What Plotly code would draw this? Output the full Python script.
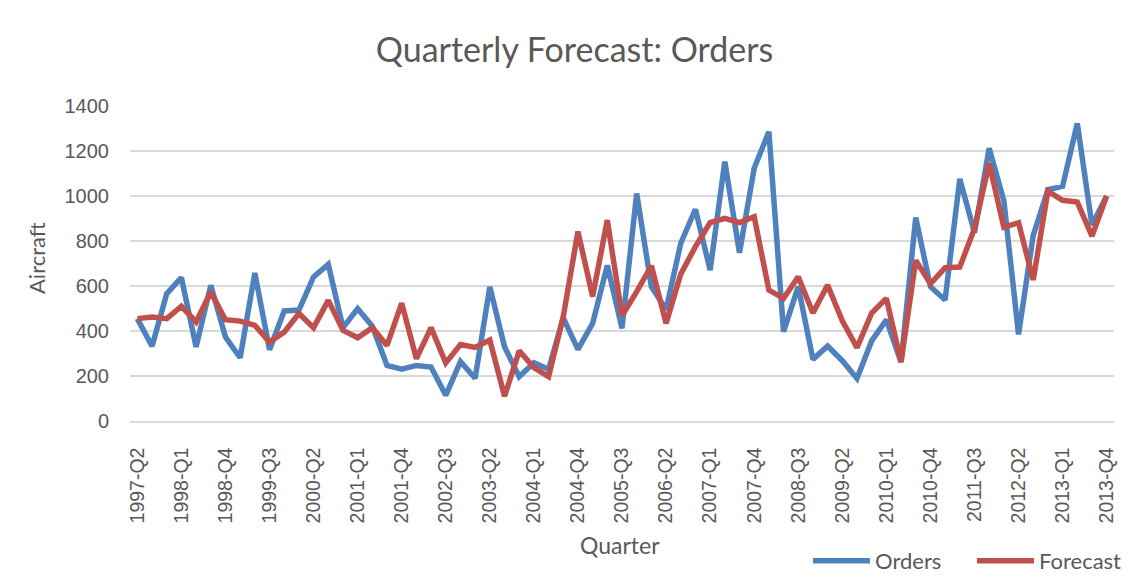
import plotly.graph_objects as go

quarters = [f"{y}-Q{q}" for y in range(1997, 2014) for q in range(1, 5)][1:]

orders = [455, 332, 566, 637, 329, 603, 373, 281, 658, 317,
          489, 493, 640, 696, 415, 499, 421, 247, 230, 247,
          240, 114, 264, 190, 596, 330, 197, 259, 230, 458,
          318, 434, 692, 412, 1011, 597, 495, 790, 941, 671,
          1153, 748, 1123, 1286, 397, 597, 274, 333, 268, 189,
          356, 450, 262, 904, 597, 538, 1076, 837, 1212, 979,
          385, 825, 1028, 1043, 1323, 871, 1000]

forecast = [455, 462, 455, 510, 440, 573, 450, 444, 425, 351,
            395, 478, 415, 536, 403, 370, 415, 336, 524, 277,
            415, 258, 340, 327, 360, 110, 312, 237, 197, 464,
            842, 553, 893, 468, 575, 690, 434, 653, 775, 882,
            901, 882, 908, 582, 545, 641, 480, 604, 445, 326,
            480, 545, 262, 714, 610, 681, 684, 856, 1145, 861,
            881, 627, 1022, 981, 973, 822, 1000]

tick_labels = quarters[::3]
y_ticks = [0, 200, 400, 600, 800, 1000, 1200, 1400]

# page body has an 8px margin; figure drawn at offset (8, 8)
OFF = 8
W, H = 1141 - OFF, 580 - OFF
ML = 130 - OFF
MT = 106 - OFF
MR = W - (1114 - OFF)
MB = H - (421 - OFF)
PW, PH = W - ML - MR, H - MT - MB

def px(x):
    return (x - OFF - ML) / PW

def py(y):
    return (H - MB - (y - OFF)) / PH

TXT = "#595959"
FONT = "Lato"

fig = go.Figure()
fig.add_trace(go.Scatter(x=quarters, y=orders, name="Orders", mode="lines",
                         line=dict(color="#4F81BD", width=5.5)))
fig.add_trace(go.Scatter(x=quarters, y=forecast, name="Forecast", mode="lines",
                         line=dict(color="#C0504D", width=5.5)))

fig.update_layout(
    width=W, height=H,
    margin=dict(l=ML, r=MR, t=MT, b=MB, autoexpand=False),
    paper_bgcolor="white", plot_bgcolor="white",
    font=dict(family=FONT, color=TXT),
    title=dict(text="Quarterly Forecast: Orders", x=0.5, xanchor="center",
               y=1 - (50 - OFF) / H, yanchor="middle",
               font=dict(family=FONT, size=34, color=TXT)),
    showlegend=True,
    legend=dict(orientation="h", x=px(808), y=py(561), xanchor="left", yanchor="middle",
                font=dict(family=FONT, size=22, color=TXT), bgcolor="rgba(0,0,0,0)",
                itemwidth=57, entrywidth=92, entrywidthmode="pixels"),
    xaxis=dict(type="category", categoryorder="array", categoryarray=quarters,
               range=[-0.5, len(quarters) - 0.5], automargin=False,
               tickmode="array", tickvals=tick_labels, ticktext=tick_labels,
               tickangle=-90, ticks="", showgrid=False, zeroline=False,
               showline=True, linecolor="#D9D9D9", linewidth=1.5,
               tickfont=dict(family="Liberation Sans", size=19.5, color=TXT),
               ticklabelstandoff=17),
    yaxis=dict(range=[0, 1400], tickmode="array", tickvals=y_ticks, automargin=False,
               ticktext=[str(v) for v in y_ticks],
               showgrid=True, gridcolor="#D9D9D9", gridwidth=1.5,
               zeroline=False, showline=False, ticks="",
               tickfont=dict(family="Liberation Sans", size=20, color=TXT),
               ticklabelstandoff=20),
    annotations=[
        dict(text="Aircraft", x=px(37), y=py(258), xref="paper", yref="paper",
             textangle=-90, showarrow=False, xanchor="center", yanchor="middle",
             font=dict(family=FONT, size=22, color=TXT)),
        dict(text="Quarter", x=px(620), y=py(545), xref="paper", yref="paper",
             showarrow=False, xanchor="center", yanchor="middle",
             font=dict(family=FONT, size=23, color=TXT)),
    ],
)

fig.write_html("out.html")
